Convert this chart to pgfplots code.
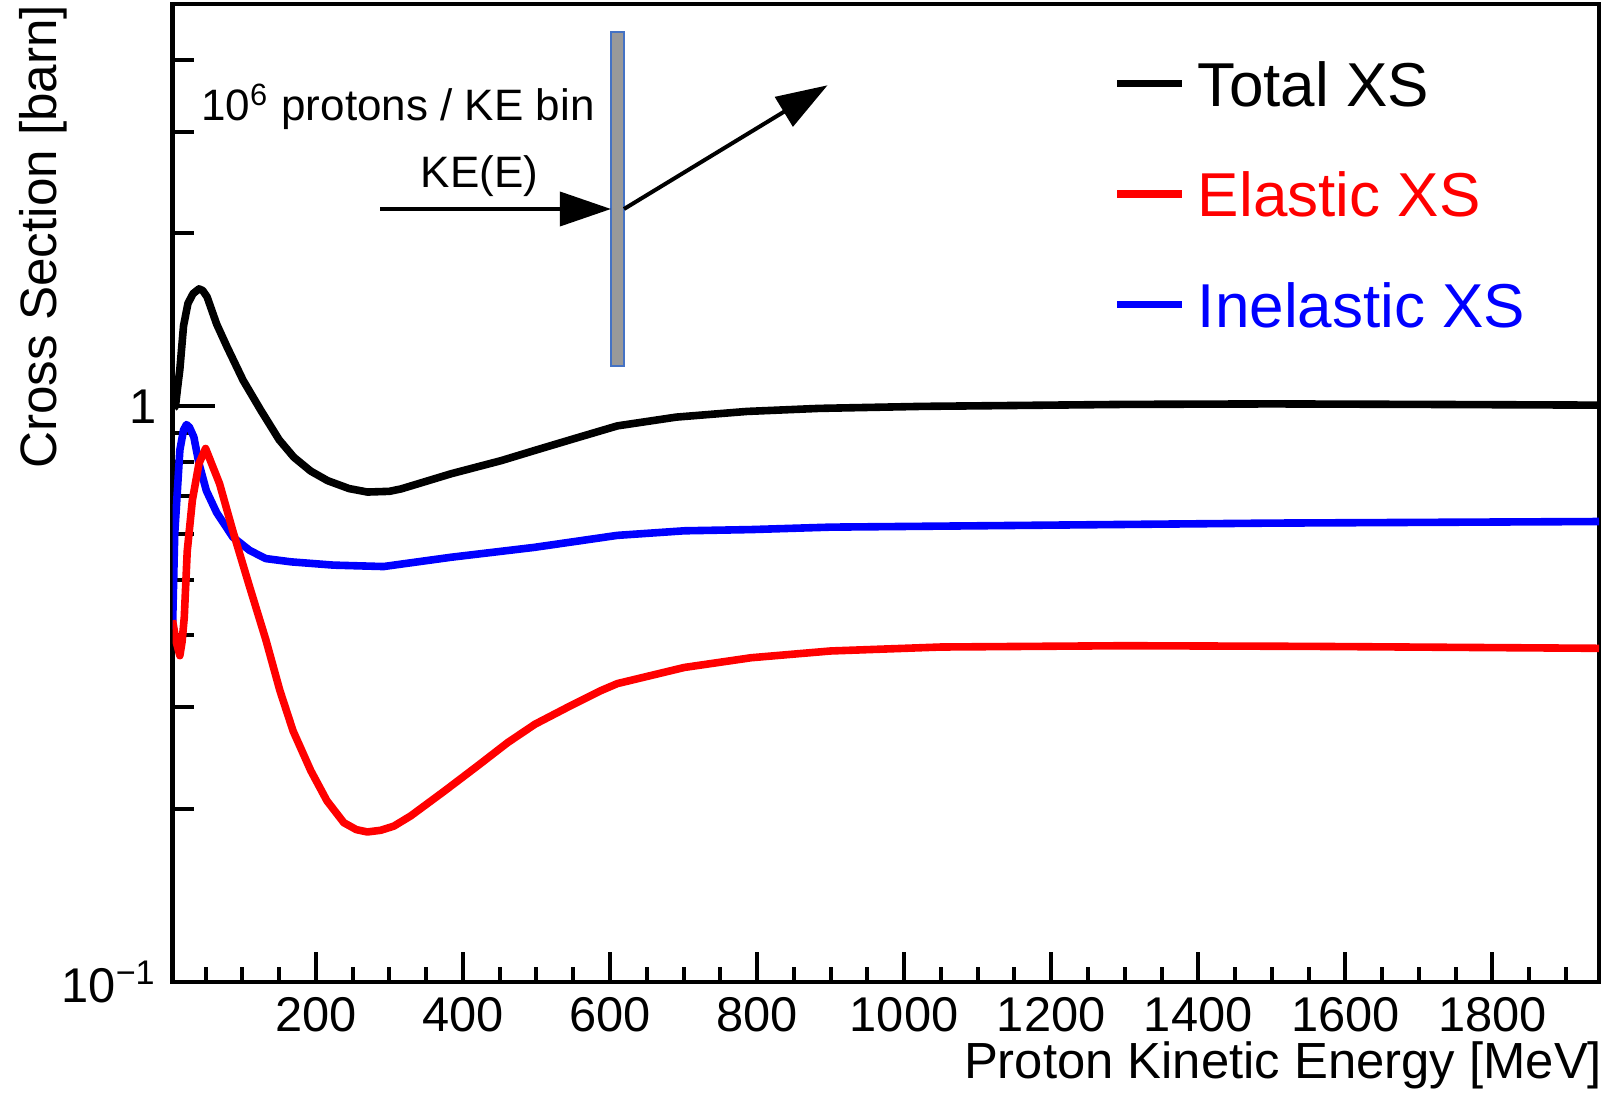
\documentclass[border=0pt]{standalone}
\usepackage{fontspec}
\setmainfont{Liberation Sans}
\usepackage{pgfplots}
\pgfplotsset{compat=1.18}
\usetikzlibrary{arrows.meta}

\begin{document}
\begin{tikzpicture}
\begin{axis}[name=main,
  scale only axis, width=356.6pt, height=244.5pt,
  xmin=5, xmax=1945, ymode=log, ymin=0.1, ymax=5,
  axis line style={line width=1.1pt},
  xtick=\empty,
  ytick={0.1,1}, yticklabels={10\textsuperscript{−1},1},
  minor ytick={0.2,0.3,0.4,0.5,0.6,0.7,0.8,0.9,2,3,4},
  ytick pos=left, tick align=inside,
  major tick length=10.6pt, minor tick length=5.3pt,
  tick style={line width=1pt, black},
  yticklabel style={font=\fontsize{12.2}{14}\selectfont, inner sep=0pt, xshift=-3.75pt},
  ylabel={Cross Section [barn]},
  every axis y label/.style={at={(rel axis cs:-0.081,1)}, rotate=90, anchor=base east, inner sep=0pt, font=\fontsize{12.8}{14}\selectfont},
  legend style={at={(rel axis cs:0.659,0.943)}, anchor=north west, draw=none, fill=none, inner sep=0pt,
     row sep=16.1pt, column sep=3pt, font=\fontsize{15.5}{18}\selectfont,
     nodes={inner sep=0pt, text height=11.5pt, text depth=0pt}},
  legend cell align=left,
  legend image code/.code={\draw[#1, line width=1.9pt] (0pt,0pt) -- (16.25pt,0pt);},
  every axis plot/.append style={line width=1.9pt, line join=round},
]
\addplot[black, forget plot] coordinates {
(7,0.995) (9,1.0) (12,1.08) (15,1.16) (20,1.38) (26,1.51) (33,1.57) (41,1.60) (46,1.59)
(52,1.55) (65,1.39) (79,1.27) (101,1.11) (125,0.985) (150,0.875) (170,0.816) (193,0.772)
(216,0.743) (245,0.72) (270,0.71) (300,0.712) (316,0.719) (384,0.764) (452,0.805)
(497,0.838) (550,0.878) (610,0.925) (690,0.958) (786,0.98) (884,0.992) (1024,1.0)
(1300,1.008) (1500,1.01) (1700,1.008) (1945,1.005)};
\addplot[blue, forget plot] coordinates {
(5,0.41) (8,0.60) (15,0.84) (20,0.91) (24,0.93) (28,0.92) (34,0.885) (41,0.796) (51,0.714)
(65,0.654) (87,0.593) (110,0.562) (132,0.544) (166,0.537) (224,0.53) (292,0.527)
(384,0.547) (497,0.569) (610,0.597) (701,0.608) (792,0.611) (900,0.617) (1200,0.622)
(1500,0.627) (1945,0.631)};
\addplot[red, forget plot] coordinates {
(5,0.425) (10,0.39) (15,0.369) (18,0.39) (21,0.43) (25,0.56) (32,0.687) (41,0.796)
(50,0.845) (69,0.734) (87,0.608) (109,0.49) (132,0.393) (151,0.321) (169,0.273)
(193,0.233) (215,0.2065) (238,0.1892) (255,0.1840) (270,0.1823) (288,0.1835)
(306,0.1866) (329,0.1944) (375,0.2148) (420,0.2375) (461,0.2607) (498,0.2805) (542,0.30)
(587,0.3206) (610,0.33) (701,0.352) (792,0.366) (900,0.376) (1050,0.382) (1300,0.384)
(1550,0.383) (1945,0.38)};
\addlegendimage{black}\addlegendentry{Total XS}
\addlegendimage{red}\addlegendentry{\textcolor{red}{Elastic XS}}
\addlegendimage{blue}\addlegendentry{\textcolor{blue}{Inelastic XS}}

\draw[fill={rgb,255:red,153;green,153;blue,153}, draw={rgb,255:red,68;green,114;blue,196}, line width=0.35pt]
  (rel axis cs:0.3074,0.6299) rectangle (rel axis cs:0.3165,0.9714);
\draw[line width=1pt, -{Triangle[length=12.8pt,width=8.5pt]}]
  (rel axis cs:0.1455,0.7904) -- (rel axis cs:0.3074,0.7904);
\draw[line width=1pt, -{Triangle[length=12.8pt,width=8.5pt]}]
  (rel axis cs:0.3165,0.7904) -- (rel axis cs:0.4592,0.9169);
\node[font=\fontsize{11}{13}\selectfont, anchor=base, inner sep=0pt] at (rel axis cs:0.158,0.8804) {10\textsuperscript{6} protons / KE bin};
\node[font=\fontsize{11}{13}\selectfont, anchor=base, inner sep=0pt] at (rel axis cs:0.2152,0.8119) {KE(E)};
\end{axis}

\begin{axis}[at={(main.south west)}, anchor=south west,
  scale only axis, width=356.6pt, height=244.5pt,
  xmin=5, xmax=1945, ymin=0, ymax=1, hide y axis,
  axis line style={line width=1.1pt},
  xtick={200,400,...,1800}, minor xtick={50,100,...,1900},
  xtick pos=left, tick align=inside,
  major tick length=7.5pt, minor tick length=3.75pt,
  tick style={line width=1pt, black},
  xticklabel style={font=\fontsize{12.2}{14}\selectfont, inner sep=0pt, yshift=-3.6pt},
  /pgf/number format/1000 sep={}, /pgf/number format/assume math mode=true,
  xlabel={Proton Kinetic Energy [MeV]},
  every axis x label/.style={at={(rel axis cs:1,0)}, anchor=base east, xshift=1pt, yshift=-24pt, inner sep=0pt, font=\fontsize{12.7}{14}\selectfont},
]
\end{axis}
\pgfresetboundingbox
\path ([xshift=-43.125pt,yshift=-28pt]main.south west) rectangle ([xshift=3.25pt,yshift=1pt]main.north east);
\end{tikzpicture}
\end{document}
